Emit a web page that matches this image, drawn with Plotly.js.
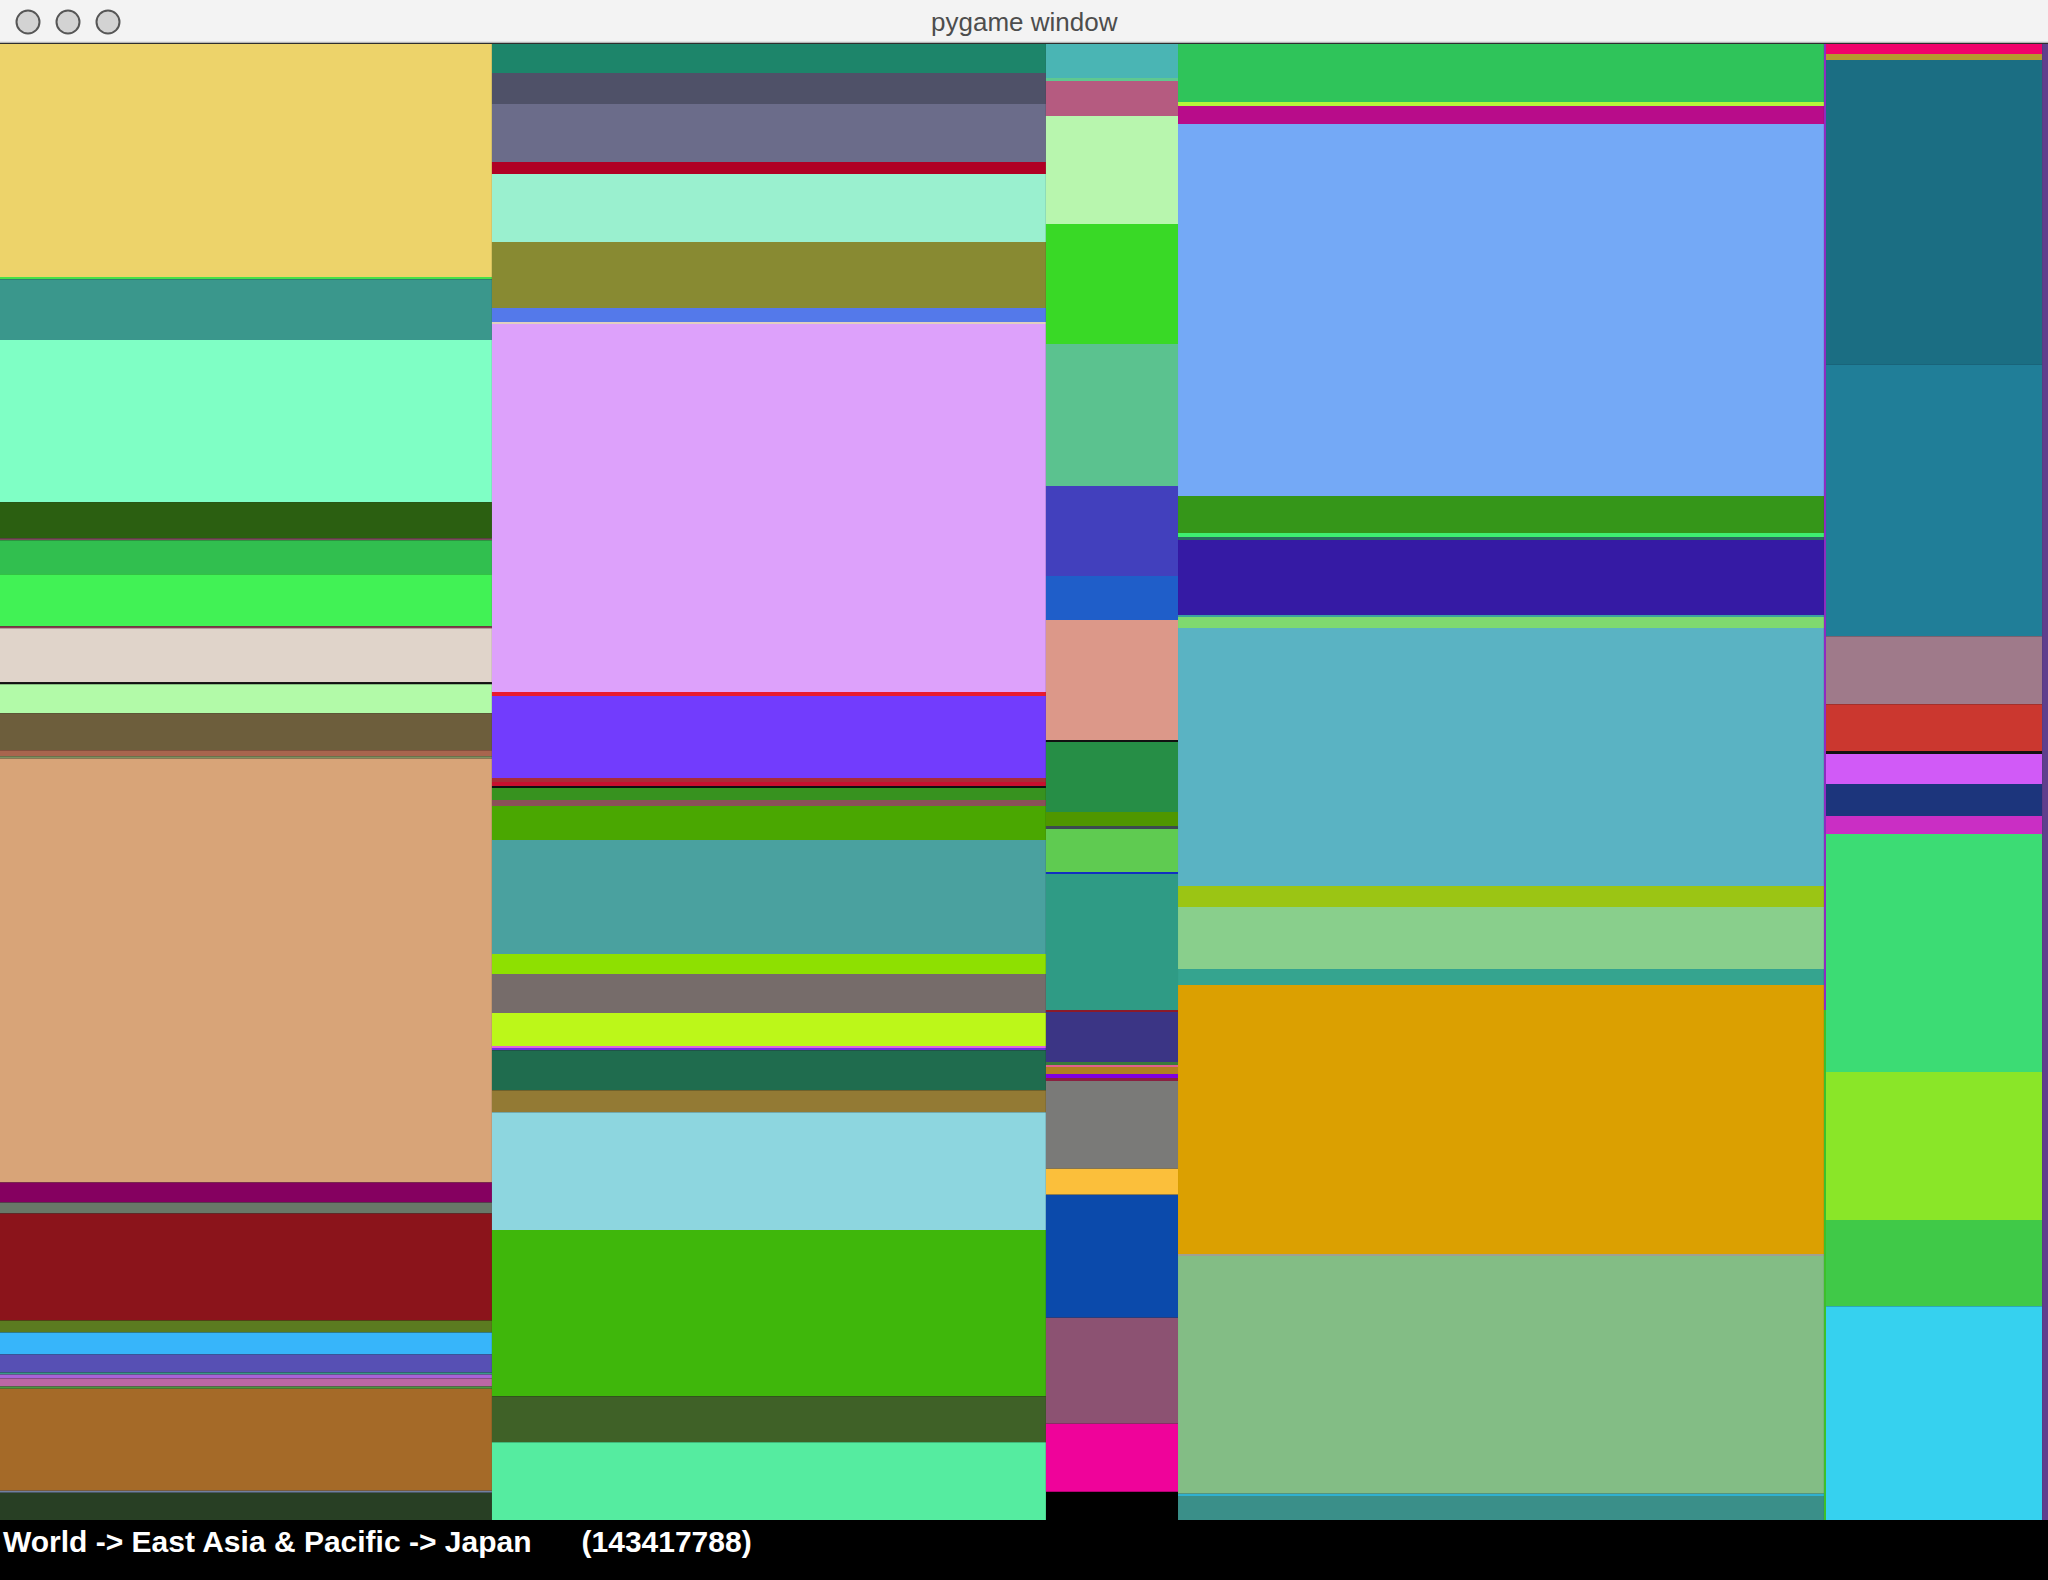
<!DOCTYPE html>
<html>
<head>
<meta charset="utf-8">
<script src="https://cdn.plot.ly/plotly-3.0.1.min.js"></script>
<style>
  html, body { margin: 0; padding: 0; background: #000; }
  #chart { width: 2048px; height: 1580px; }
</style>
</head>
<body>
<div id="chart"></div>
<script>
// ---- Data ----
// Share of the world total taken by each column (region), in %
const regionNames = ["Region 1", "Region 2", "Region 3", "Region 4", "Region 4b", "Region 5", "Region 6"];
const regionShares = [24.02, 27.05, 6.45, 31.54, 0.10, 10.55, 0.29];

// Share of each region taken by each of its members, in % (top to bottom)
const region1Values = [15.79, 0.14, 4.13, 10.98, 2.44, 0.14, 2.30, 3.52, 0.14, 3.66, 0.14, 1.96, 2.51, 0.41, 0.14,
  28.73, 1.36, 0.75, 7.25, 0.81, 1.49, 1.22, 0.14, 0.27, 0.54, 0.14, 6.91, 0.14, 1.90];
const region1Colors = ["#edd36a", "#48e048", "#3a978c", "#7fffc5", "#2b5f11", "#7a4d5a", "#31bf4f", "#41f255", "#8a3a50", "#e0d4ca", "#111111", "#b2faa8", "#6d5e3c", "#a8654e", "#7f9060",
  "#d8a478", "#850060", "#687868", "#8b141b", "#5b7b20", "#37b5fa", "#5750b4", "#3a9a8a", "#a862d8", "#bb67a4", "#4a9a40", "#a56a28", "#7080a0", "#283f24"];

const region2Values = [1.96, 2.10, 3.93, 0.81, 4.61, 4.47, 0.95, 0.14, 24.93, 0.27, 5.56, 0.27, 0.27, 0.14, 0.81,
  0.41, 2.30, 7.72, 1.36, 2.64, 2.24, 0.14, 0.14, 2.71, 1.49, 7.99, 11.25, 3.12, 5.28];
const region2Colors = ["#1d856a", "#4f5168", "#6b6c8a", "#b00024", "#9af0cf", "#888a32", "#5479ea", "#e0cfc0", "#dda1fb", "#e91a30", "#723cfd", "#a92c38", "#c8102e", "#111111", "#37921f",
  "#8a5058", "#4aa701", "#4aa19f", "#8ee001", "#766c6a", "#bcf719", "#e060e0", "#7030e0", "#1f6c4e", "#937a34", "#8dd6df", "#3fb70b", "#3f6127", "#55eca0"];

const region3Values = [2.30, 0.20, 2.37, 7.32, 8.13, 9.62, 6.10, 2.98, 8.13, 0.14, 4.74, 0.95, 0.20, 2.91, 0.14,
  9.21, 0.14, 3.39, 0.20, 0.14, 0.47, 0.27, 0.20, 5.96, 1.76, 8.33, 7.18, 4.61];
const region3Colors = ["#4ab5b4", "#5fc890", "#b55b80", "#b8f6ae", "#39d926", "#5bc28f", "#4240bd", "#1f5ec9", "#dc9889", "#111111", "#268e46", "#4f9700", "#3c4a50", "#5fcb51", "#1030c0",
  "#2f9b85", "#8b1a2a", "#3b3585", "#3a7a3a", "#e06090", "#b08020", "#7f00e0", "#8a2040", "#7a7a78", "#fbbf3b", "#0b4aab", "#8c5272", "#ef039a"];

const region4Values = [3.93, 0.27, 1.22, 25.20, 2.51, 0.27, 0.20, 5.08, 0.14, 0.75, 17.48, 1.42, 4.20, 1.08, 18.22, 0.14, 16.12, 0.14, 1.63];
const region4Colors = ["#2fc45a", "#b4f53a", "#b80c8a", "#74a9f6", "#359619", "#3ef070", "#2a6a60", "#351aa4", "#3aa0a0", "#7fd970", "#5ab3c3", "#9bc514", "#89cf8c", "#35a48f", "#dba001", "#a0a090", "#83bd85", "#30b0d0", "#3a8f89"];

const region4bValues = [65.45, 34.55];
const region4bColors = ["#8e2cc0", "#3dbf2b"];

const region5Values = [0.68, 0.41, 20.60, 18.43, 4.61, 3.18, 0.20, 2.03, 2.17, 1.22, 16.12, 10.03, 5.83, 14.50];
const region5Colors = ["#f1026b", "#b59a2f", "#1b6e83", "#207e98", "#9f7a8a", "#cb372f", "#111111", "#d15af7", "#1c357c", "#ca2ec4", "#3cdc74", "#8ae628", "#40c948", "#36d1ef"];

const region6Values = [100];
const region6Colors = ["#5f3f8d"];

const statusPath = "World -> East Asia & Pacific -> Japan";
const statusValue = "(143417788)";
const windowTitle = "pygame window";

// ---- Build the bars ----
const regionValues = [region1Values, region2Values, region3Values, region4Values, region4bValues, region5Values, region6Values];
const regionColors = [region1Colors, region2Colors, region3Colors, region4Colors, region4bColors, region5Colors, region6Colors];

const bx = [], bw = [], bbase = [], by = [], bc = [], bt = [];
let xStart = 0;
regionShares.forEach((share, r) => {
  let acc = 0;
  regionValues[r].forEach((v, i) => {
    bx.push(xStart + share / 2);
    bw.push(share);
    bbase.push(acc);
    by.push(v);
    bc.push(regionColors[r][i]);
    bt.push(regionNames[r]);
    acc += v;
  });
  xStart += share;
});

const trace = {
  type: "bar",
  x: bx, y: by, base: bbase, width: bw,
  text: bt, textposition: "none",
  marker: { color: bc, line: { width: 0 } },
  hoverinfo: "skip",
  showlegend: false
};

const W = 2048, H = 1580;
const py = (pix) => 1 - pix / H;   // figure pixel (from top) -> paper y
const px = (pix) => pix / W;

const circles = [28, 68, 108].map(cx => ({
  type: "circle", xref: "paper", yref: "paper",
  x0: px(cx - 11.5), x1: px(cx + 11.5), y0: py(33.5), y1: py(10.5),
  fillcolor: "#d3d3d3", line: { color: "#565656", width: 2 }
}));

const layout = {
  width: W, height: H,
  margin: { l: 0, r: 0, t: 0, b: 0, pad: 0 },
  paper_bgcolor: "#000000",
  plot_bgcolor: "#000000",
  barmode: "overlay",
  xaxis: { range: [0, 100], visible: false, showgrid: false, zeroline: false, fixedrange: true },
  yaxis: { range: [100, 0], visible: false, showgrid: false, zeroline: false, fixedrange: true,
           domain: [1 - 1520 / H, 1 - 44 / H] },
  shapes: [
    { type: "rect", xref: "paper", yref: "paper", x0: 0, x1: 1, y0: py(43), y1: 1,
      fillcolor: "#f3f3f3", line: { width: 0 }, layer: "above" },
    { type: "line", xref: "paper", yref: "paper", x0: 0, x1: 1, y0: py(42.5), y1: py(42.5),
      line: { color: "#b6b6b6", width: 1.5 }, layer: "above" },
    ...circles.map(c => Object.assign(c, { layer: "above" }))
  ],
  annotations: [
    { xref: "paper", yref: "paper", x: 0.5, y: py(22), xanchor: "center", yanchor: "middle",
      text: windowTitle, showarrow: false,
      font: { family: "Liberation Sans, Arial, Helvetica, sans-serif", size: 26, color: "#4d4d4d" } },
    { xref: "paper", yref: "paper", x: px(1), y: py(1541), xanchor: "left", yanchor: "middle",
      text: "<b>" + statusPath + "\u00a0\u00a0\u00a0\u00a0\u00a0\u00a0" + statusValue + "</b>", showarrow: false,
      font: { family: "Liberation Sans, Arial, Helvetica, sans-serif", size: 30, color: "#ffffff" } }
  ]
};

Plotly.newPlot("chart", [trace], layout, { staticPlot: true, displayModeBar: false });
</script>
</body>
</html>
